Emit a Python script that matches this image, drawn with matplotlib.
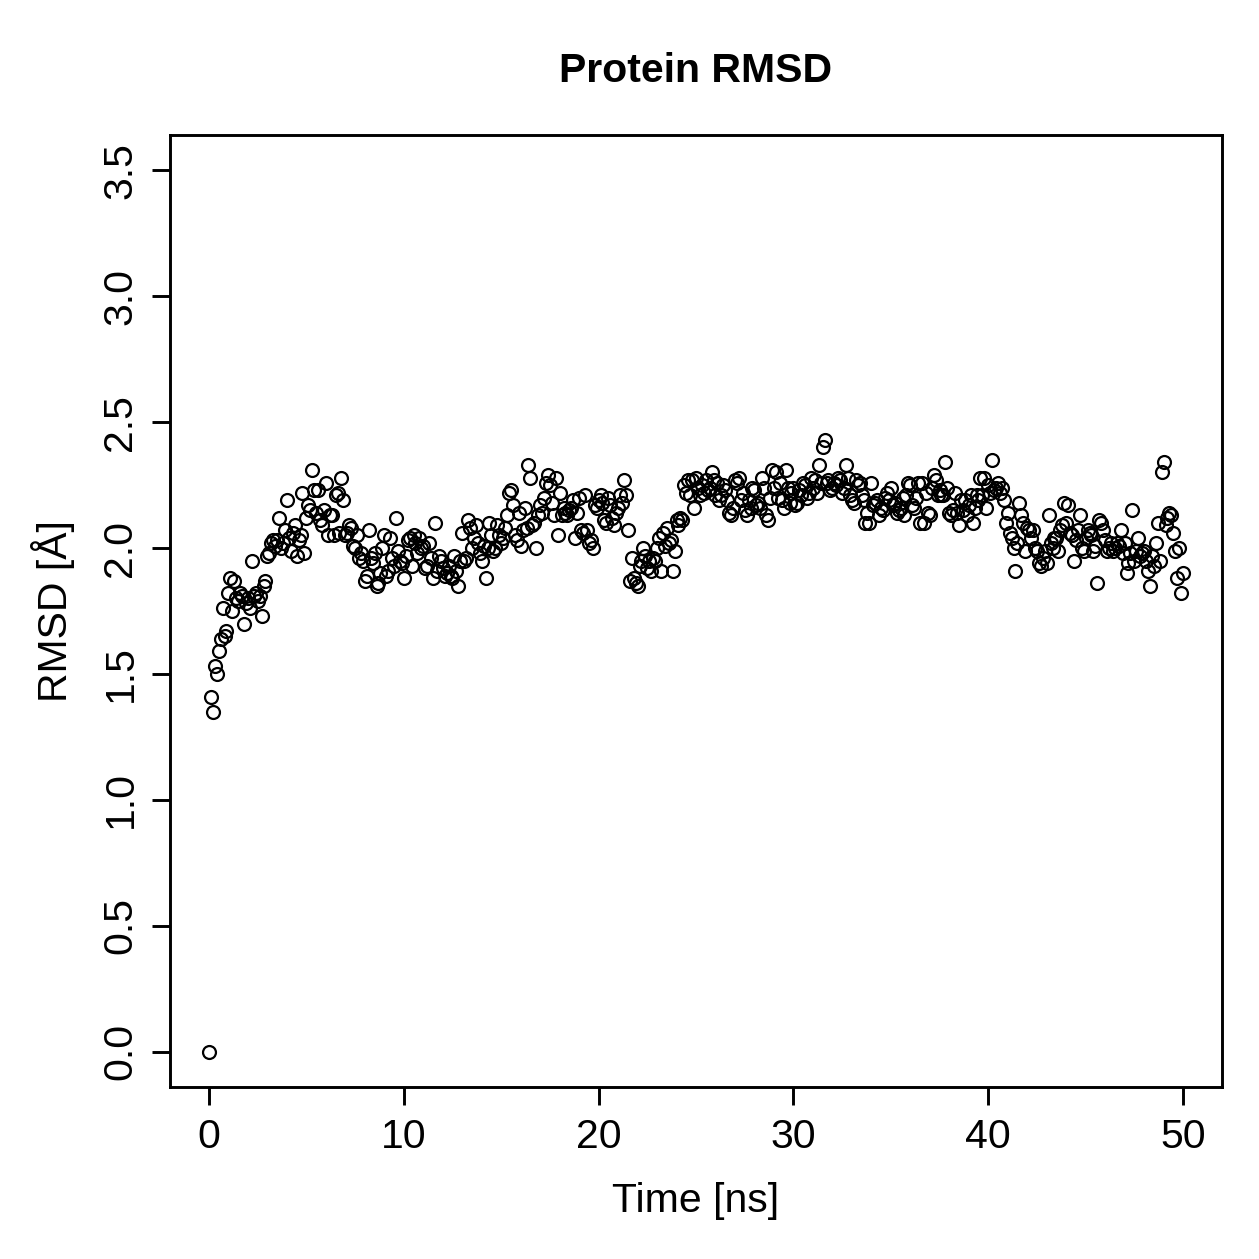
import numpy as np
import matplotlib
matplotlib.use("Agg")
import matplotlib.pyplot as plt

plt.rcParams['font.family'] = ['Liberation Sans', 'DejaVu Sans']

rmsd = [
    0.00, 1.41, 1.35, 1.53, 1.50, 1.59, 1.64, 1.76, 1.65, 1.67,
    1.82, 1.88, 1.75, 1.87, 1.80, 1.79, 1.82, 1.81, 1.70, 1.78,
    1.80, 1.76, 1.95, 1.81, 1.82, 1.79, 1.81, 1.73, 1.85, 1.87,
    1.97, 1.98, 2.02, 2.03, 2.01, 2.03, 2.12, 2.00, 2.02, 2.07,
    2.19, 2.04, 1.99, 2.06, 2.09, 1.97, 2.03, 2.05, 2.22, 1.98,
    2.12, 2.17, 2.15, 2.31, 2.23, 2.14, 2.23, 2.11, 2.09, 2.15,
    2.26, 2.05, 2.13, 2.13, 2.05, 2.21, 2.22, 2.06, 2.28, 2.19,
    2.05, 2.06, 2.09, 2.08, 2.01, 2.00, 2.05, 1.96, 1.98, 1.95,
    1.87, 1.89, 2.07, 1.96, 1.94, 1.98, 1.85, 1.86, 1.90, 2.00,
    2.05, 1.89, 1.91, 2.04, 1.96, 1.93, 2.12, 1.99, 1.95, 1.94,
    1.88, 1.97, 2.03, 2.04, 1.93, 2.05, 2.02, 1.98, 2.04, 2.00,
    2.01, 1.92, 1.93, 2.02, 1.96, 1.88, 2.10, 1.91, 1.97, 1.95,
    1.92, 1.89, 1.90, 1.93, 1.89, 1.88, 1.97, 1.91, 1.85, 1.95,
    2.06, 1.95, 1.96, 2.11, 2.08, 2.00, 2.04, 2.09, 2.02, 1.98,
    1.95, 2.01, 1.88, 2.00, 2.10, 2.05, 1.99, 2.00, 2.09, 2.05,
    2.02, 2.04, 2.08, 2.13, 2.22, 2.23, 2.17, 2.05, 2.03, 2.14,
    2.01, 2.07, 2.16, 2.08, 2.33, 2.28, 2.09, 2.10, 2.00, 2.13,
    2.17, 2.14, 2.20, 2.26, 2.29, 2.25, 2.18, 2.13, 2.28, 2.05,
    2.22, 2.13, 2.16, 2.14, 2.13, 2.15, 2.16, 2.19, 2.04, 2.14,
    2.20, 2.07, 2.06, 2.21, 2.07, 2.02, 2.03, 2.00, 2.17, 2.16,
    2.19, 2.21, 2.18, 2.11, 2.10, 2.20, 2.17, 2.12, 2.09, 2.14,
    2.16, 2.21, 2.18, 2.27, 2.21, 2.07, 1.87, 1.96, 1.88, 1.86,
    1.85, 1.93, 1.95, 2.00, 1.97, 1.92, 1.95, 1.91, 1.96, 1.95,
    2.00, 2.04, 1.91, 2.06, 2.01, 2.08, 2.02, 2.03, 1.91, 1.99,
    2.11, 2.09, 2.12, 2.11, 2.25, 2.22, 2.27, 2.21, 2.27, 2.16,
    2.28, 2.24, 2.21, 2.25, 2.22, 2.27, 2.23, 2.24, 2.30, 2.27,
    2.21, 2.26, 2.19, 2.21, 2.25, 2.23, 2.19, 2.14, 2.13, 2.16,
    2.27, 2.26, 2.28, 2.19, 2.22, 2.15, 2.13, 2.19, 2.16, 2.24,
    2.23, 2.17, 2.18, 2.16, 2.28, 2.24, 2.13, 2.11, 2.20, 2.31,
    2.24, 2.30, 2.20, 2.26, 2.19, 2.16, 2.31, 2.24, 2.18, 2.22,
    2.24, 2.17, 2.18, 2.23, 2.21, 2.26, 2.25, 2.20, 2.22, 2.28,
    2.24, 2.27, 2.22, 2.33, 2.26, 2.40, 2.43, 2.26, 2.27, 2.23,
    2.24, 2.26, 2.25, 2.28, 2.27, 2.22, 2.24, 2.33, 2.28, 2.21,
    2.19, 2.18, 2.27, 2.25, 2.26, 2.21, 2.19, 2.10, 2.14, 2.10,
    2.26, 2.17, 2.18, 2.19, 2.13, 2.16, 2.15, 2.20, 2.22, 2.19,
    2.24, 2.17, 2.18, 2.14, 2.15, 2.16, 2.20, 2.13, 2.21, 2.26,
    2.25, 2.17, 2.16, 2.20, 2.26, 2.10, 2.26, 2.10, 2.22, 2.14,
    2.13, 2.24, 2.29, 2.27, 2.21, 2.23, 2.21, 2.21, 2.34, 2.24,
    2.14, 2.13, 2.15, 2.22, 2.14, 2.09, 2.19, 2.15, 2.19, 2.13,
    2.17, 2.21, 2.10, 2.16, 2.21, 2.19, 2.28, 2.21, 2.28, 2.16,
    2.25, 2.22, 2.35, 2.23, 2.24, 2.26, 2.22, 2.24, 2.19, 2.10,
    2.14, 2.06, 2.04, 2.00, 1.91, 2.02, 2.18, 2.13, 2.10, 1.99,
    2.08, 2.07, 2.04, 2.07, 2.00, 1.99, 1.94, 1.93, 1.96, 1.99,
    1.94, 2.13, 2.02, 2.00, 2.04, 2.04, 1.99, 2.07, 2.09, 2.18,
    2.10, 2.17, 2.06, 2.05, 1.95, 2.03, 2.07, 2.13, 2.00, 1.99,
    2.04, 2.07, 2.06, 2.05, 1.99, 2.01, 1.86, 2.11, 2.10, 2.07,
    2.03, 1.99, 2.00, 2.02, 1.99, 2.00, 2.02, 2.01, 2.07, 1.98,
    2.02, 1.90, 1.94, 1.98, 2.15, 1.95, 1.99, 2.04, 1.97, 1.98,
    1.99, 1.95, 1.91, 1.85, 1.97, 1.93, 2.02, 2.10, 1.95, 2.30,
    2.34, 2.09, 2.12, 2.14, 2.13, 2.06, 1.99, 1.88, 2.00, 1.82,
    1.90,
]
time_ns = np.arange(len(rmsd)) * 0.1

x_ticks = [0, 10, 20, 30, 40, 50]
y_ticks = [0.0, 0.5, 1.0, 1.5, 2.0, 2.5, 3.0, 3.5]
y_tick_labels = ["0.0", "0.5", "1.0", "1.5", "2.0", "2.5", "3.0", "3.5"]

fig = plt.figure(figsize=(12.59, 12.59), dpi=100)
ax = fig.add_axes([170/1259, 1 - 1087/1259, (1222-170)/1259, (1087-135)/1259])

ax.plot(time_ns, rmsd, linestyle='none', marker='o', markersize=9.3,
        markerfacecolor='none', markeredgecolor='black', markeredgewidth=1.6)

ax.set_xlim(-2, 52)
ax.set_ylim(-0.14, 3.64)
ax.set_xticks(x_ticks)
ax.set_yticks(y_ticks)
ax.set_yticklabels(y_tick_labels, rotation=90, va='center')
ax.tick_params(axis='both', length=13, width=2.1, labelsize=29.5, pad=9, direction='out')
for s in ax.spines.values():
    s.set_linewidth(2.1)

ax.set_xlabel("Time [ns]", fontsize=29.5, labelpad=19)
ax.set_ylabel("RMSD [Å]", fontsize=29.5, labelpad=19)
fig.text(696/1259, 1 - 71/1259, "Protein RMSD", ha='center', va='center',
         fontsize=29.5, fontweight='bold')

fig.savefig("out.png", dpi=100)
